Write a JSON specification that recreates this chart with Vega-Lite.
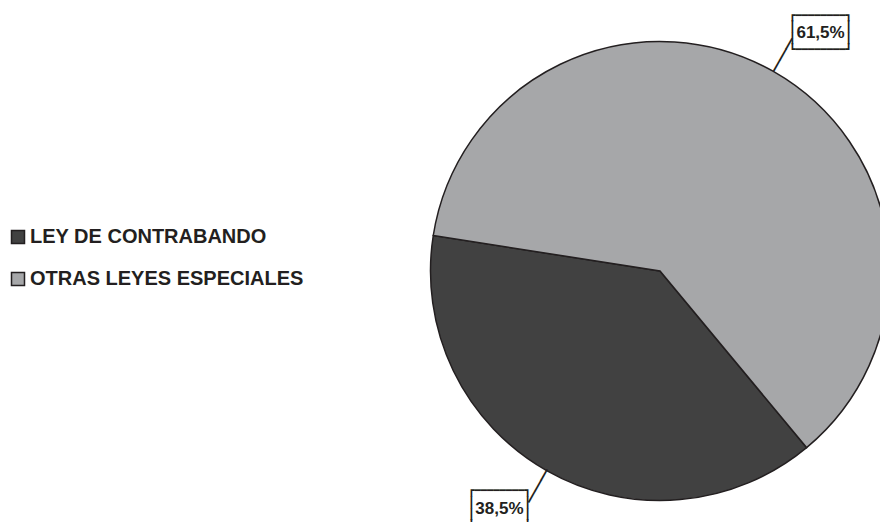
{
  "$schema": "https://vega.github.io/schema/vega-lite/v6.json",
  "width": 460,
  "height": 542,
  "autosize": {"type": "none"},
  "padding": {"left": 430, "top": 0, "right": 0, "bottom": 0},
  "background": "white",
  "config": {"view": {"stroke": null}},
  "data": {
    "values": [
      {"category": "LEY DE CONTRABANDO", "pct": 38.5, "label": "38,5%", "order": 1},
      {"category": "OTRAS LEYES ESPECIALES", "pct": 61.5, "label": "61,5%", "order": 2}
    ]
  },
  "encoding": {
    "theta": {"field": "pct", "type": "quantitative", "stack": true, "scale": {"range": [2.4487, 8.7319]}},
    "order": {"field": "order", "type": "quantitative"}
  },
  "layer": [
    {
      "mark": {"type": "arc", "radius": 229.5, "stroke": "#231f20", "strokeWidth": 1.5},
      "encoding": {
        "color": {
          "field": "category",
          "type": "nominal",
          "scale": {"domain": ["LEY DE CONTRABANDO", "OTRAS LEYES ESPECIALES"], "range": ["#414141", "#a6a7a9"]},
          "legend": {
            "orient": "none",
            "legendX": -422,
            "legendY": 227,
            "title": null,
            "symbolType": "square",
            "symbolSize": 169,
            "symbolStrokeColor": "#231f20",
            "symbolStrokeWidth": 1.5,
            "labelFont": "Liberation Sans",
            "labelFontWeight": "bold",
            "labelFontSize": 20,
            "labelColor": "#231f20",
            "rowPadding": 22,
            "labelOffset": 2,
            "labelLimit": 400
          }
        }
      }
    },
    {
      "mark": {
        "type": "text",
        "radius": 248,
        "angle": 29.6,
        "font": "DejaVu Sans Mono",
        "fontSize": 11,
        "lineHeight": 12.6,
        "dy": -12.6,
        "align": "center",
        "baseline": "middle",
        "color": "#231f20",
        "text": ["┃", "┃", "┃"]
      }
    },
    {
      "mark": {
        "type": "text",
        "radius": 287,
        "thetaOffset": 0.077,
        "font": "DejaVu Sans Mono",
        "fontSize": 10.4,
        "lineHeight": 11.6,
        "dy": -17.4,
        "align": "center",
        "baseline": "middle",
        "color": "#231f20",
        "text": ["┏━━━━━━━━┓", "┃\u00a0\u00a0\u00a0\u00a0\u00a0\u00a0\u00a0\u00a0┃", "┃\u00a0\u00a0\u00a0\u00a0\u00a0\u00a0\u00a0\u00a0┃", "┗━━━━━━━━┛"]
      }
    },
    {
      "mark": {
        "type": "text",
        "radius": 287,
        "thetaOffset": 0.077,
        "font": "Liberation Sans",
        "fontWeight": "bold",
        "fontSize": 17,
        "align": "center",
        "baseline": "middle",
        "color": "#231f20"
      },
      "encoding": {"text": {"field": "label", "type": "nominal"}}
    }
  ]
}
